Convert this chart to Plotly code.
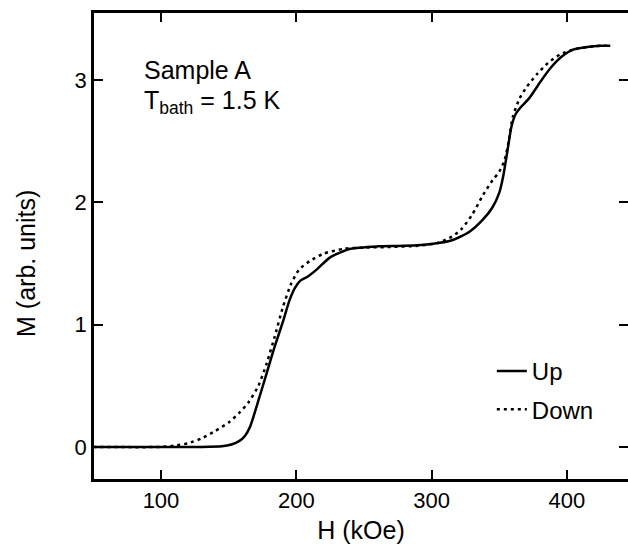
import plotly.graph_objects as go

# Data
h_up = [50, 100, 130, 145, 152, 158, 162, 166, 172, 178, 184, 190, 195, 199, 203, 208,
        215, 225, 240, 260, 280, 300, 315, 328, 338, 345, 350, 353, 356, 359, 362, 366,
        372, 380, 388, 396, 405, 415, 425, 432]
m_up = [0, 0, 0, 0.005, 0.02, 0.05, 0.09, 0.17, 0.38, 0.6, 0.82, 1.02, 1.2, 1.3, 1.36, 1.39,
        1.45, 1.55, 1.62, 1.64, 1.645, 1.66, 1.69, 1.76, 1.86, 1.96, 2.08, 2.22, 2.42, 2.62, 2.72, 2.78,
        2.85, 2.98, 3.1, 3.19, 3.25, 3.27, 3.28, 3.28]

h_down = [50, 100, 110, 120, 130, 140, 150, 158, 165, 172, 178, 184, 190, 196, 202, 210,
          220, 235, 250, 270, 290, 305, 315, 322, 330, 338, 345, 350, 354, 357, 360, 365,
          370, 378, 386, 395, 405, 415, 425, 432]
m_down = [0, 0, 0.01, 0.03, 0.07, 0.13, 0.2, 0.28, 0.37, 0.5, 0.68, 0.9, 1.14, 1.33, 1.45, 1.52,
          1.58, 1.62, 1.63, 1.635, 1.645, 1.67, 1.72, 1.78, 1.9, 2.06, 2.18, 2.25, 2.35, 2.5, 2.7, 2.85,
          2.94, 3.05, 3.14, 3.21, 3.25, 3.27, 3.28, 3.28]

x_ticks = [100, 200, 300, 400]
y_ticks = [0, 1, 2, 3]
x_range = [50.5, 445.1]
y_range = [-0.262, 3.548]

FONT = "Liberation Sans, Arial, sans-serif"

fig = go.Figure()
fig.add_trace(go.Scatter(x=h_up, y=m_up, mode="lines", name="Up", legendgroup="up",
                         line=dict(color="black", width=2.5, shape="spline", smoothing=0.6)))
fig.add_trace(go.Scatter(x=h_down, y=m_down, mode="lines", name="Down", legendgroup="down",
                         line=dict(color="black", width=2.5, dash="3px,4px", shape="spline", smoothing=0.6)))
# invisible trace to carry the right-hand tick marks
fig.add_trace(go.Scatter(x=[x_range[0]], y=[y_range[0]], yaxis="y2", mode="markers",
                         marker=dict(opacity=0), showlegend=False, hoverinfo="skip"))

fig.update_layout(
    width=628, height=553,
    margin=dict(l=94, r=0, t=13, b=74),
    paper_bgcolor="white", plot_bgcolor="white",
    font=dict(family=FONT, size=22, color="black"),
    showlegend=True,
    legend=dict(x=0.745, y=0.19, xanchor="left", yanchor="middle", tracegroupgap=4,
                bgcolor="rgba(0,0,0,0)", font=dict(size=24)),
    xaxis=dict(range=x_range, tickvals=x_ticks, ticks="inside", ticklen=9, tickwidth=2,
               tickcolor="black", showline=True, linecolor="black", linewidth=2.5,
               mirror="ticks", showgrid=False, zeroline=False,
               title=dict(text="H (kOe)", standoff=10, font=dict(size=25)), tickfont=dict(size=22)),
    yaxis=dict(range=y_range, tickvals=y_ticks, ticks="inside", ticklen=9, tickwidth=2,
               tickcolor="black", showline=True, linecolor="black", linewidth=2.5,
               mirror=False, showgrid=False, zeroline=False, tickfont=dict(size=22)),
    yaxis2=dict(range=y_range, tickvals=y_ticks, ticks="inside", ticklen=9, tickwidth=2,
                tickcolor="black", showline=False, overlaying="y", side="right",
                showticklabels=False, showgrid=False, zeroline=False),
)

fig.add_annotation(x=-0.1275, y=0.4635, xref="paper", yref="paper", xanchor="center", yanchor="middle",
                   text="M (arb. units)", textangle=-90, showarrow=False, font=dict(size=25))
fig.add_annotation(x=0.09, y=0.878, xref="paper", yref="paper", xanchor="left", yanchor="middle",
                   text="Sample A", showarrow=False, font=dict(size=25))
fig.add_annotation(x=0.09, y=0.81, xref="paper", yref="paper", xanchor="left", yanchor="middle",
                   text="T<sub>bath</sub> = 1.5 K", showarrow=False, font=dict(size=25))

fig.write_html("out.html")
